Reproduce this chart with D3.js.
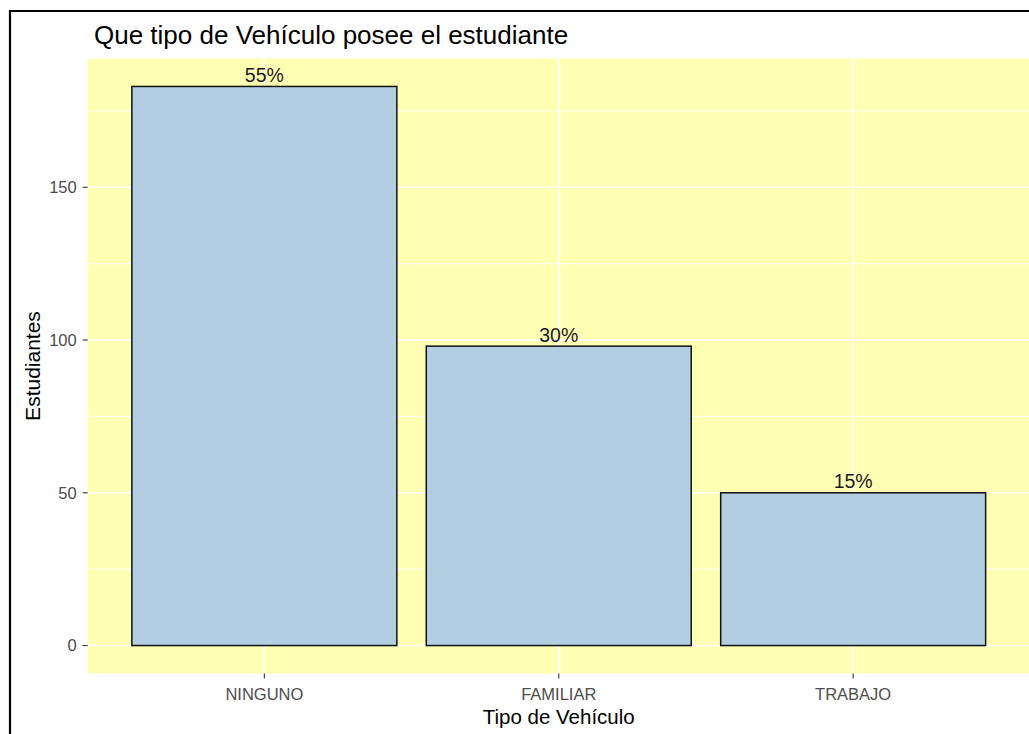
<!DOCTYPE html>
<html>
<head>
<meta charset="utf-8">
<script src="https://cdn.jsdelivr.net/npm/d3@7"></script>
<style>
  html, body { margin: 0; padding: 0; background: #ffffff; }
  svg { display: block; }
  text { font-family: "Liberation Sans", Arial, sans-serif; }
</style>
</head>
<body>
<script>
const categories = ["NINGUNO", "FAMILIAR", "TRABAJO"];
const counts = [183, 98, 50];
const percentLabels = ["55%", "30%", "15%"];
const yTicks = [0, 50, 100, 150];
const yMinorTicks = [25, 75, 125, 175];
const titleText = "Que tipo de Vehículo posee el estudiante";
const xTitle = "Tipo de Vehículo";
const yTitle = "Estudiantes";

const W = 1029, H = 734;
const panel = { left: 87.7, right: 1029.8, top: 58.5, bottom: 673.5 };

const svg = d3.select("body").append("svg").attr("width", W).attr("height", H);

// y scale with ggplot-like 5% expansion
const maxV = d3.max(counts);
const pad = maxV * 0.05;
const y = d3.scaleLinear().domain([-pad, maxV + pad]).range([panel.bottom, panel.top]);

// x: positions 1..n, expansion 0.6
const xPos = d3.scaleLinear().domain([0.4, categories.length + 0.6]).range([panel.left, panel.right]);
const step = xPos(2) - xPos(1);
const barW = step * 0.9;

// panel background
svg.append("rect").attr("x", panel.left).attr("y", panel.top)
  .attr("width", panel.right - panel.left).attr("height", panel.bottom - panel.top)
  .attr("fill", "#FFFFB3");

// minor gridlines
svg.append("g").selectAll("line").data(yMinorTicks).join("line")
  .attr("x1", panel.left).attr("x2", panel.right)
  .attr("y1", d => y(d)).attr("y2", d => y(d))
  .attr("stroke", "#ffffff").attr("stroke-width", 0.9);

// major gridlines
svg.append("g").selectAll("line").data(yTicks).join("line")
  .attr("x1", panel.left).attr("x2", panel.right)
  .attr("y1", d => y(d)).attr("y2", d => y(d))
  .attr("stroke", "#ffffff").attr("stroke-width", 1.6);
svg.append("g").selectAll("line").data(categories).join("line")
  .attr("x1", (d, i) => xPos(i + 1)).attr("x2", (d, i) => xPos(i + 1))
  .attr("y1", panel.top).attr("y2", panel.bottom)
  .attr("stroke", "#ffffff").attr("stroke-width", 1.6);

// bars
svg.append("g").selectAll("rect").data(counts).join("rect")
  .attr("x", (d, i) => xPos(i + 1) - barW / 2)
  .attr("y", d => y(d))
  .attr("width", barW)
  .attr("height", d => y(0) - y(d))
  .attr("fill", "#B3CDE3")
  .attr("stroke", "#111111").attr("stroke-width", 1.5);

// percent labels
svg.append("g").selectAll("text").data(counts).join("text")
  .attr("x", (d, i) => xPos(i + 1))
  .attr("y", d => y(d) - 4.5)
  .attr("text-anchor", "middle")
  .attr("font-size", "19.5px")
  .attr("fill", "#1a1a1a")
  .text((d, i) => percentLabels[i]);

// y axis ticks
const gy = svg.append("g");
gy.selectAll("line").data(yTicks).join("line")
  .attr("x1", panel.left - 5).attr("x2", panel.left)
  .attr("y1", d => y(d)).attr("y2", d => y(d))
  .attr("stroke", "#333333").attr("stroke-width", 1.1);
gy.selectAll("text").data(yTicks).join("text")
  .attr("x", panel.left - 11).attr("y", d => y(d))
  .attr("dy", "0.35em")
  .attr("text-anchor", "end")
  .attr("font-size", "16.5px")
  .attr("fill", "#4D4D4D")
  .text(d => d);

// x axis ticks
const gx = svg.append("g");
gx.selectAll("line").data(categories).join("line")
  .attr("x1", (d, i) => xPos(i + 1)).attr("x2", (d, i) => xPos(i + 1))
  .attr("y1", panel.bottom).attr("y2", panel.bottom + 5)
  .attr("stroke", "#333333").attr("stroke-width", 1.1);
gx.selectAll("text").data(categories).join("text")
  .attr("x", (d, i) => xPos(i + 1)).attr("y", 700)
  .attr("text-anchor", "middle")
  .attr("font-size", "16.5px")
  .attr("fill", "#4D4D4D")
  .text(d => d);

// axis titles
svg.append("text")
  .attr("x", (panel.left + panel.right) / 2).attr("y", 723.5)
  .attr("text-anchor", "middle").attr("font-size", "20.5px").attr("fill", "#000")
  .text(xTitle);
svg.append("text")
  .attr("transform", `translate(39.5, ${(panel.top + panel.bottom) / 2}) rotate(-90)`)
  .attr("text-anchor", "middle").attr("font-size", "21px").attr("fill", "#000")
  .text(yTitle);

// title
svg.append("text")
  .attr("x", 94).attr("y", 44.3)
  .attr("font-size", "26px").attr("fill", "#000")
  .text(titleText);

// image border (top & left)
svg.append("line").attr("x1", 9).attr("x2", W).attr("y1", 11).attr("y2", 11)
  .attr("stroke", "#000").attr("stroke-width", 2.2);
svg.append("line").attr("x1", 10).attr("x2", 10).attr("y1", 10).attr("y2", H)
  .attr("stroke", "#000").attr("stroke-width", 2.2);
</script>
</body>
</html>
